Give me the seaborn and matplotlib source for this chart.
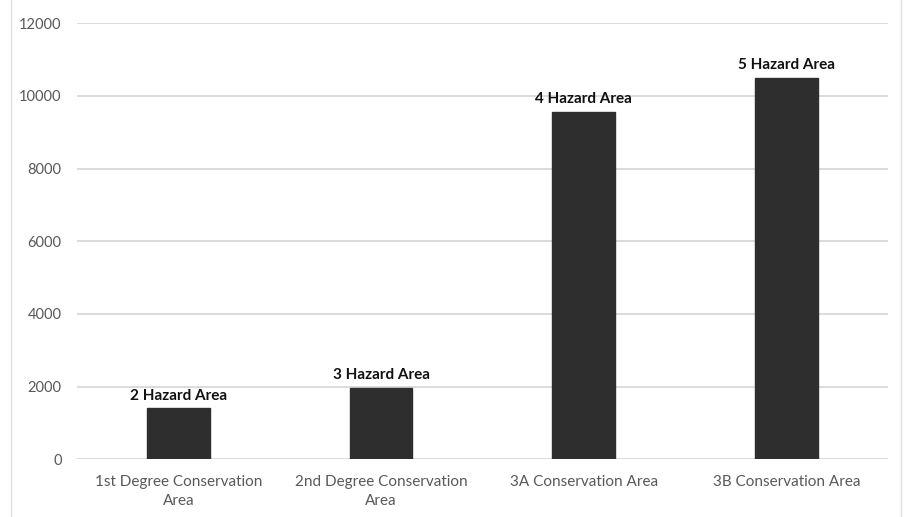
import matplotlib
matplotlib.use("Agg")
import matplotlib.pyplot as plt
import seaborn as sns
import pandas as pd
from matplotlib.lines import Line2D

categories = ["1st Degree Conservation\nArea", "2nd Degree Conservation\nArea",
              "3A Conservation Area", "3B Conservation Area"]
values = [1400, 1970, 9570, 10500]
bar_labels = ["2 Hazard Area", "3 Hazard Area", "4 Hazard Area", "5 Hazard Area"]
yticks = [0, 2000, 4000, 6000, 8000, 10000, 12000]

sns.set_theme(style="white")
plt.rcParams['font.family'] = ['Lato', 'DejaVu Sans']

df = pd.DataFrame({"category": categories, "value": values})

fig = plt.figure(figsize=(9.05, 5.17), dpi=100)
ax = fig.add_axes([0.085, 0.1116, 0.896, 0.8434])
sns.barplot(data=df, x="category", y="value", color="#2e2e2e", saturation=1,
            width=0.31, ax=ax, edgecolor="#2e2e2e")

ax.set_ylim(0, 12000)
ax.set_yticks(yticks)
ax.set_yticklabels([str(t) for t in yticks])
ax.yaxis.grid(True, color="#d9d9d9", linewidth=1.3)
ax.set_axisbelow(True)
for s in ax.spines.values():
    s.set_visible(False)
ax.set_xlabel("")
ax.set_ylabel("")
ax.set_xticks(range(len(categories)))
ax.set_xticklabels(categories, linespacing=1.45)
ax.tick_params(axis="y", length=0, pad=11, labelsize=10.5, labelcolor="#595959")
ax.tick_params(axis="x", length=0, pad=11, labelsize=11, labelcolor="#595959")
ax.set_xlim(-0.5, 3.5)

ax.bar_label(ax.containers[0], labels=bar_labels, padding=4,
             fontsize=11, fontweight="bold", color="#111111")

fig.add_artist(Line2D([0.0122, 0.0122], [0, 1], transform=fig.transFigure,
                      color="#e0e0e0", linewidth=1))
fig.add_artist(Line2D([0.9953, 0.9953], [0, 1], transform=fig.transFigure,
                      color="#e0e0e0", linewidth=1))

fig.savefig("out.png", dpi=100, facecolor="white")
